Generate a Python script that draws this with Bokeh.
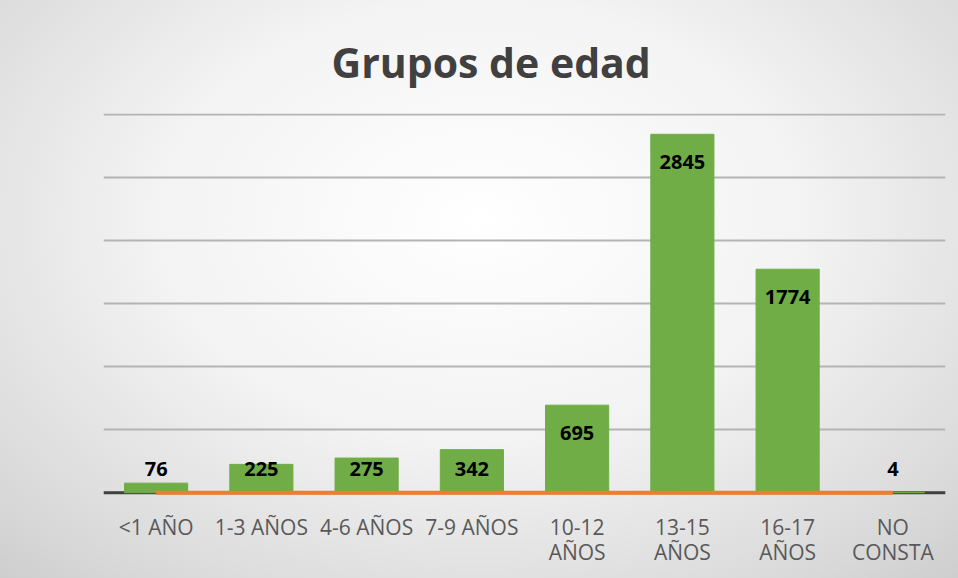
from bokeh.plotting import figure
from bokeh.models import Range1d, FixedTicker, Span
from bokeh.core.properties import value
from bokeh.embed import file_html
from bokeh.resources import INLINE

categorias = ["<1 AÑO", "1-3 AÑOS", "4-6 AÑOS", "7-9 AÑOS",
              "10-12\nAÑOS", "13-15\nAÑOS", "16-17\nAÑOS", "NO\nCONSTA"]
valores = [76, 225, 275, 342, 695, 2845, 1774, 4]
serie_linea = [0, 0, 0, 0, 0, 0, 0, 0]
ticks_y = [0, 500, 1000, 1500, 2000, 2500, 3000]

FONT = "Open Sans"

p = figure(x_range=categorias, y_range=Range1d(-30, 3010),
           width=958, height=578, output_backend="svg", toolbar_location=None,
           min_border_left=103, min_border_right=13, min_border_top=113, min_border_bottom=82)
p.styles = {"background": "radial-gradient(ellipse 75% 85% at 50% 38%, #ffffff 0%, #f3f3f3 45%, #d9d9d9 85%, #cdcdcd 100%)"}
p.border_fill_alpha = 0
p.background_fill_alpha = 0
p.outline_line_color = None

p.title.text = "Grupos de edad"
p.title.align = "left"
p.title.text_font = FONT
p.title.text_font_size = "41px"
p.title.text_font_style = "bold"
p.title.text_color = "#404040"
p.title.standoff = 47
p.title.offset = 228

p.yaxis.visible = False
p.ygrid.ticker = FixedTicker(ticks=ticks_y)
p.ygrid.grid_line_color = "#b4b4b4"
p.ygrid.grid_line_width = 2
p.xgrid.grid_line_color = None

p.xaxis.axis_line_color = None
p.xaxis.major_tick_line_color = None
p.xaxis.minor_tick_line_color = None
p.xaxis.major_label_text_font = FONT
p.xaxis.major_label_text_font_size = "21px"
p.xaxis.major_label_text_color = "#595959"
p.xaxis.major_label_text_line_height = 0.9
p.xaxis.major_label_standoff = 10

base = Span(location=0, dimension="width", line_color="#404040", line_width=3, level="underlay")
p.add_layout(base)

p.vbar(x=categorias, top=valores, bottom=0, width=0.6, fill_color="#70AD47", line_color="#70AD47")
p.line(x=categorias, y=serie_linea, line_color="#ED7D31", line_width=4)

pos_etiqueta = [max(v - 221, 190) for v in valores]
p.text(x=categorias, y=pos_etiqueta, text=[str(v) for v in valores],
       text_font=value(FONT), text_font_style="bold", text_font_size="20px",
       text_color="#000000", text_align="center", text_baseline="middle")

open("out.html", "w").write(file_html(p, INLINE))
